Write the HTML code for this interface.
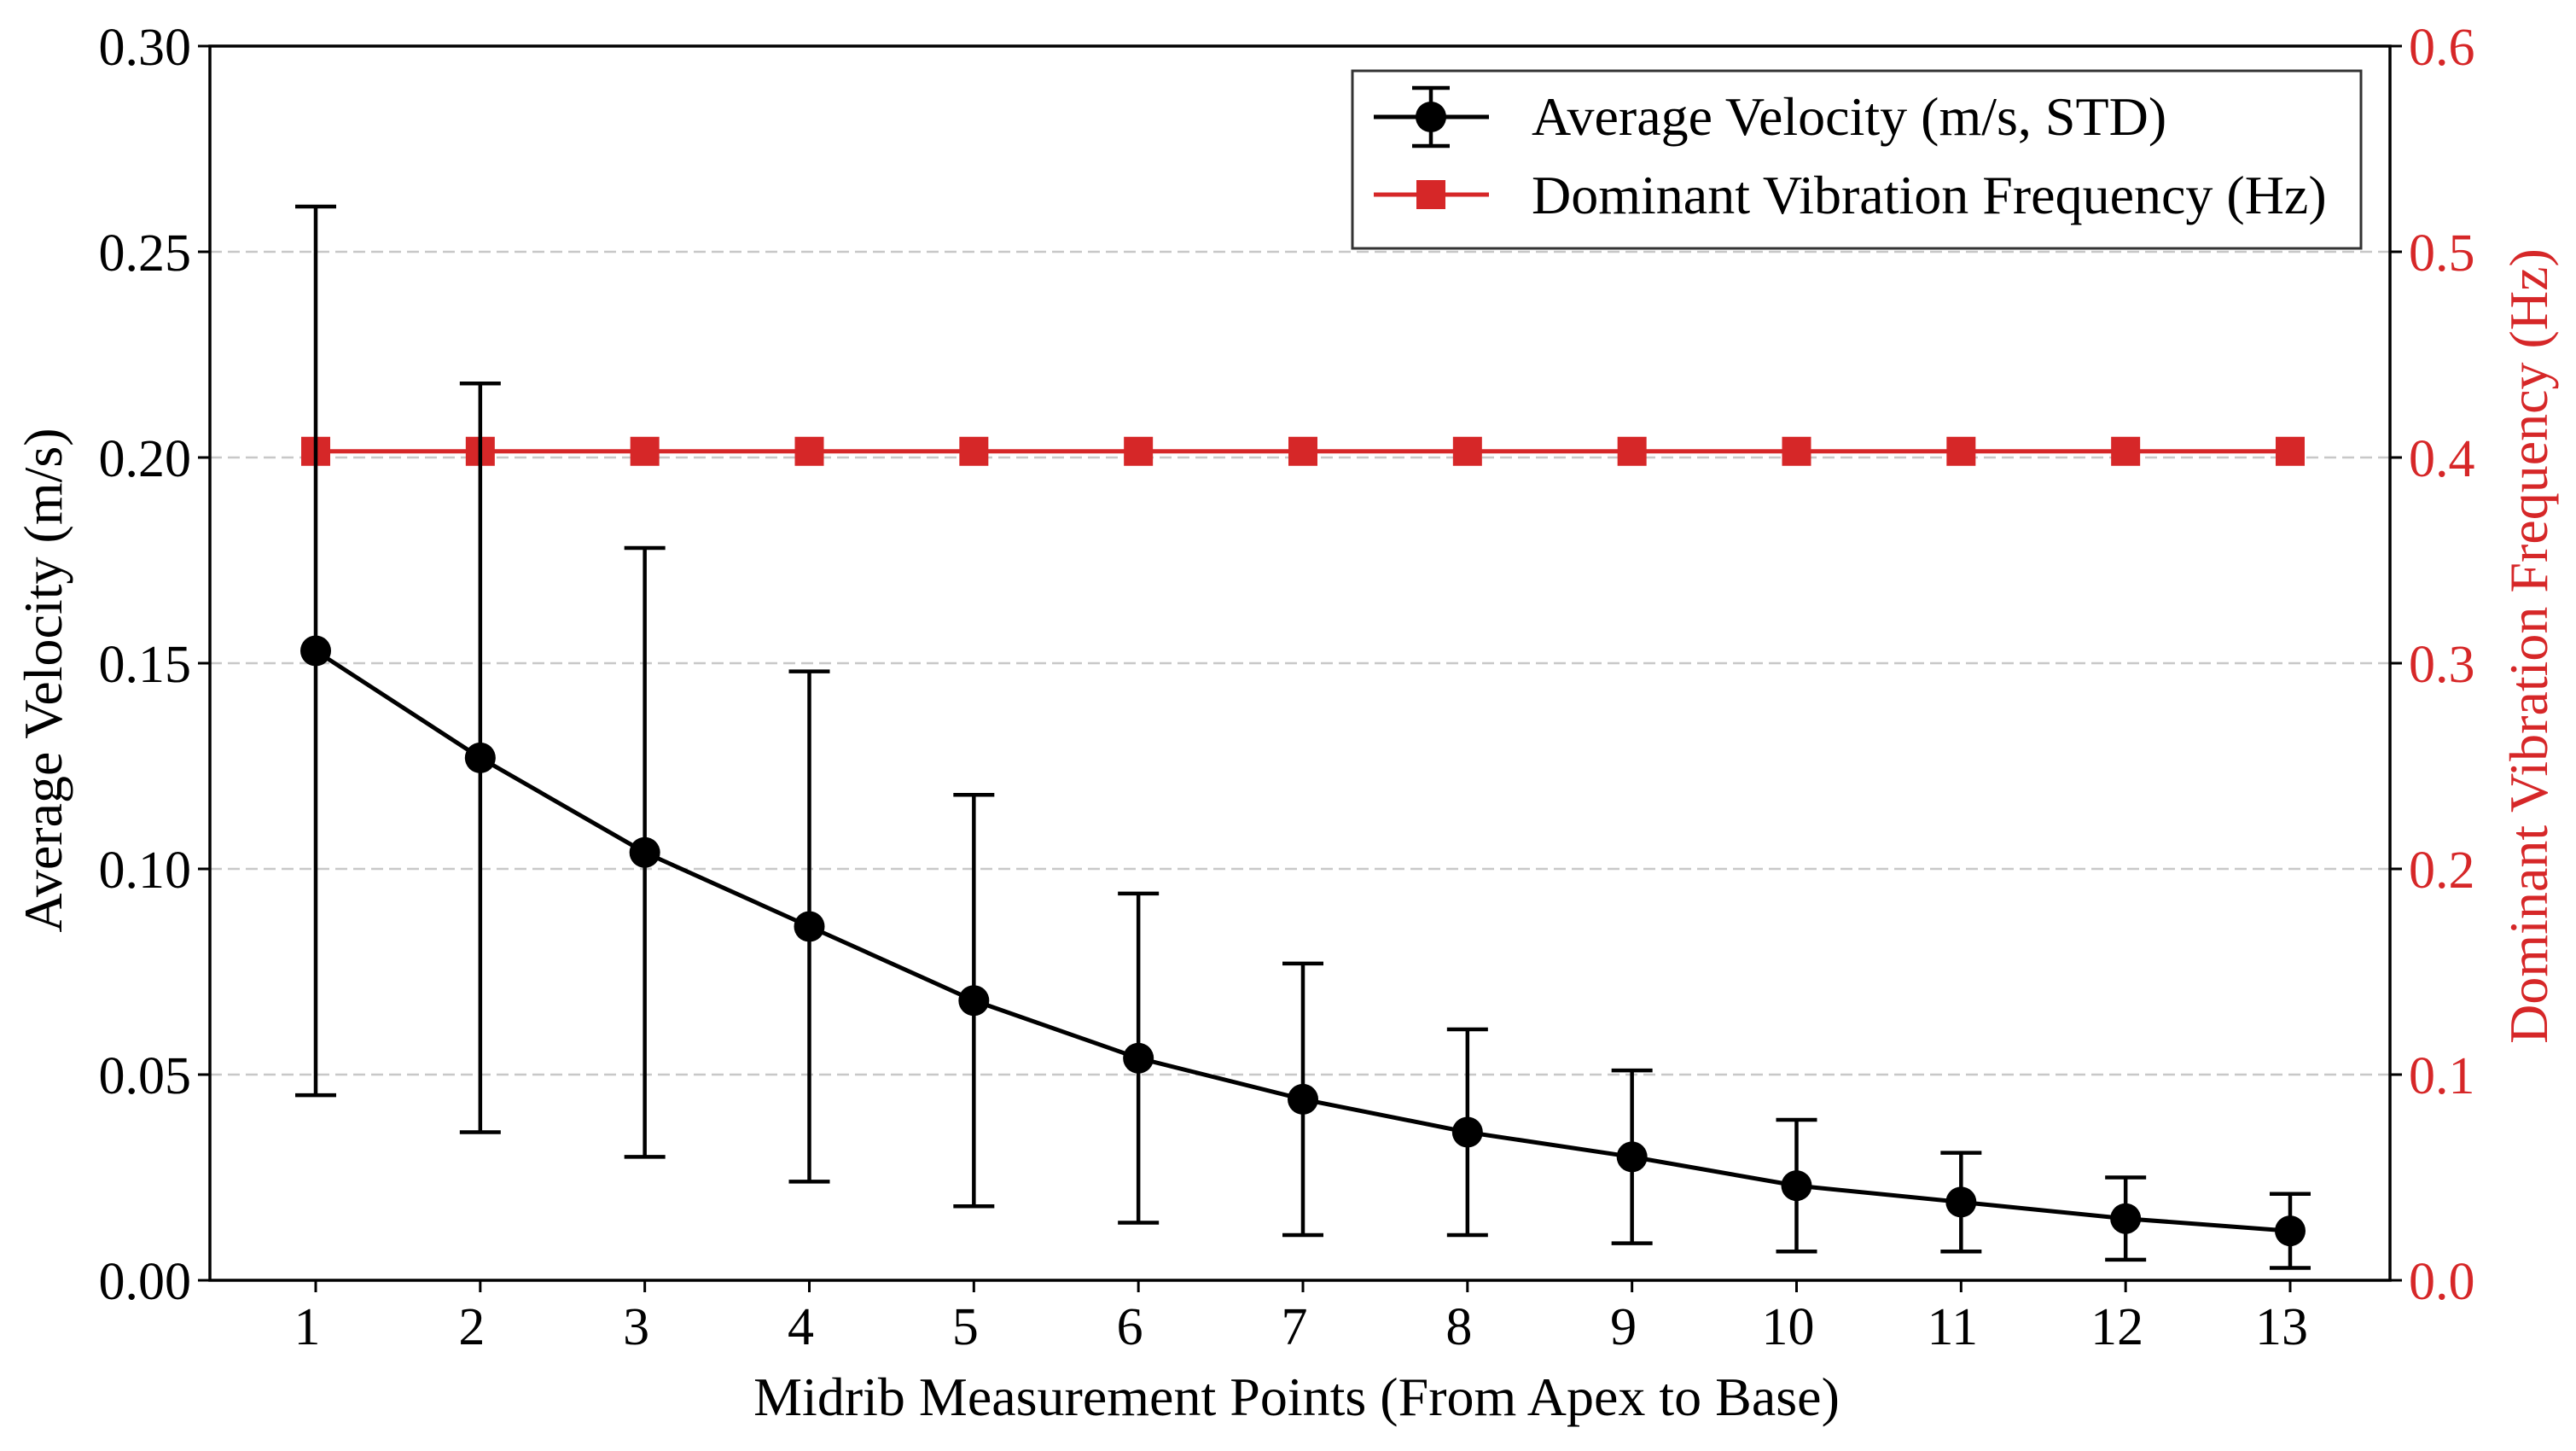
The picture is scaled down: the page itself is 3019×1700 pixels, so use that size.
<!DOCTYPE html>
<html><head><meta charset="utf-8"><style>
html,body{margin:0;padding:0;background:#fff}
svg{display:block}
text{font-family:"Liberation Serif",serif}
</style></head><body>
<svg id="chart" width="3019" height="1700" viewBox="0 0 3019 1700"></svg>
<script>
const categories=[1,2,3,4,5,6,7,8,9,10,11,12,13];
const velocity=[0.153,0.127,0.104,0.086,0.068,0.054,0.044,0.036,0.030,0.023,0.019,0.015,0.012];
const velocityStd=[0.108,0.091,0.074,0.062,0.050,0.040,0.033,0.025,0.021,0.016,0.012,0.010,0.009];
const frequency=[0.403,0.403,0.403,0.403,0.403,0.403,0.403,0.403,0.403,0.403,0.403,0.403,0.403];
const leftTicks=["0.00","0.05","0.10","0.15","0.20","0.25","0.30"];
const rightTicks=["0.0","0.1","0.2","0.3","0.4","0.5","0.6"];

const L=246,R=2801,T=54,B=1500;
const x=i=>370+(2684-370)*(i-1)/12;
const yL=v=>B-(B-T)*v/0.30;
const yR=v=>B-(B-T)*v/0.6;
const NS="http://www.w3.org/2000/svg";
const svg=document.getElementById('chart');
function mk(tag,attrs,parent){const e=document.createElementNS(NS,tag);for(const k in attrs)e.setAttribute(k,attrs[k]);(parent||svg).appendChild(e);return e;}

leftTicks.forEach(t=>{const v=parseFloat(t);if(v>0&&v<0.30){
 const g=mk('line',{x1:L,x2:R,y1:yL(v),y2:yL(v),stroke:'#c8c8c8','stroke-width':2.5,'stroke-dasharray':'14,7'});
 
 
}});
leftTicks.forEach(t=>{const v=parseFloat(t);
 mk('line',{x1:L-14,x2:L,y1:yL(v),y2:yL(v),stroke:'#000','stroke-width':3});
 const tx=mk('text',{x:L-22,y:yL(v)+22,'text-anchor':'end','font-size':62,fill:'#000'});
 tx.textContent=t;
 
 
});
rightTicks.forEach(t=>{const v=parseFloat(t);
 mk('line',{x1:R,x2:R+14,y1:yR(v),y2:yR(v),stroke:'#000','stroke-width':3});
 const tx=mk('text',{x:R+22,y:yR(v)+22,'text-anchor':'start','font-size':62,fill:'#d62728'});
 tx.textContent=t;
 
 
});
categories.forEach(c=>{
 mk('line',{x1:x(c),x2:x(c),y1:B,y2:B+14,stroke:'#000','stroke-width':3});
 const tx=mk('text',{x:x(c)-10,y:B+75,'text-anchor':'middle','font-size':62,fill:'#000'});
 tx.textContent=String(c);
 
 
});
const fl=mk('polyline',{points:categories.map((c,i)=>x(c)+','+yR(frequency[i])).join(' '),fill:'none',stroke:'#d62728','stroke-width':5});


categories.forEach((c,i)=>{
 const s=mk('rect',{x:x(c)-17,y:yR(frequency[i])-17,width:34,height:34,fill:'#d62728'});
 
 
});
categories.forEach((c,i)=>{
 const hi=yL(velocity[i]+velocityStd[i]),lo=yL(Math.max(0,velocity[i]-velocityStd[i]));
 const g=mk('g',{});
 
 
 mk('line',{x1:x(c),x2:x(c),y1:hi,y2:lo,stroke:'#000','stroke-width':4.5},g);
 mk('line',{x1:x(c)-24,x2:x(c)+24,y1:hi,y2:hi,stroke:'#000','stroke-width':4.5},g);
 mk('line',{x1:x(c)-24,x2:x(c)+24,y1:lo,y2:lo,stroke:'#000','stroke-width':4.5},g);
});
const vl=mk('polyline',{points:categories.map((c,i)=>x(c)+','+yL(velocity[i])).join(' '),fill:'none',stroke:'#000','stroke-width':5});


categories.forEach((c,i)=>{
 const p=mk('circle',{cx:x(c),cy:yL(velocity[i]),r:18,fill:'#000'});
 
 
});
const fr=mk('rect',{x:L,y:T,width:R-L,height:B-T,fill:'none',stroke:'#000','stroke-width':3.5});


const yt=mk('text',{x:0,y:0,transform:`translate(72,${(T+B)/2+20}) rotate(-90)`,'text-anchor':'middle','font-size':64,fill:'#000'});
yt.textContent='Average Velocity (m/s)';


const yt2=mk('text',{x:0,y:0,transform:`translate(2985,${(T+B)/2-20}) rotate(-90)`,'text-anchor':'middle','font-size':64,fill:'#d62728'});
yt2.textContent='Dominant Vibration Frequency (Hz)';


const xt=mk('text',{x:(L+R)/2+-4,y:1658,'text-anchor':'middle','font-size':64,fill:'#000'});
xt.textContent='Midrib Measurement Points (From Apex to Base)';


const lg=mk('g',{});


mk('rect',{x:1585,y:83,width:1182,height:208,fill:'#fff',stroke:'#333','stroke-width':3},lg);
const e1=mk('g',{},lg);


mk('line',{x1:1610,x2:1745,y1:137,y2:137,stroke:'#000','stroke-width':5},e1);
mk('line',{x1:1677,x2:1677,y1:103,y2:171,stroke:'#000','stroke-width':4.5},e1);
mk('line',{x1:1655,x2:1699,y1:103,y2:103,stroke:'#000','stroke-width':4.5},e1);
mk('line',{x1:1655,x2:1699,y1:171,y2:171,stroke:'#000','stroke-width':4.5},e1);
mk('circle',{cx:1677,cy:137,r:18,fill:'#000'},e1);
const t1=mk('text',{x:1795,y:158,'font-size':64,fill:'#000'},e1);t1.textContent='Average Velocity (m/s, STD)';
const e2=mk('g',{},lg);


mk('line',{x1:1610,x2:1745,y1:228,y2:228,stroke:'#d62728','stroke-width':5},e2);
mk('rect',{x:1660,y:211,width:34,height:34,fill:'#d62728'},e2);
const t2=mk('text',{x:1795,y:250,'font-size':64,fill:'#000'},e2);t2.textContent='Dominant Vibration Frequency (Hz)';
</script>
</body></html>
